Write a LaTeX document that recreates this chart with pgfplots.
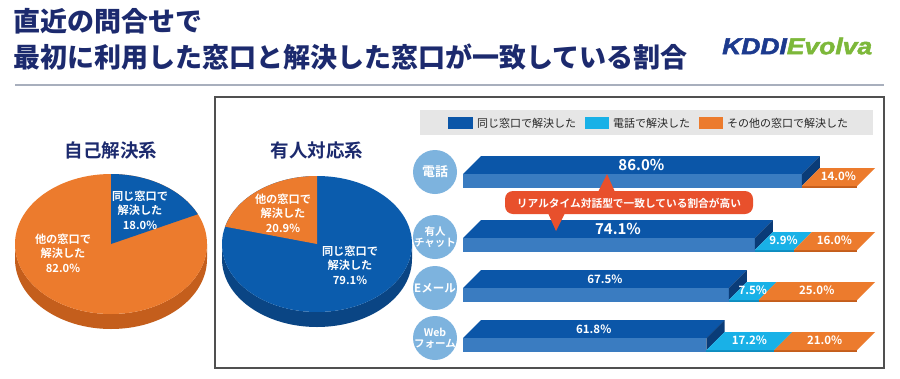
\documentclass[border=0pt]{standalone}
\usepackage{pgfplots}
\pgfplotsset{compat=1.18}
\usepackage{graphicx}
\usepackage{fontspec}
\setmainfont{Noto Sans CJK JP}[BoldFont={Noto Sans CJK JP Bold}]
\newfontfamily\jpblack{Noto Sans CJK JP Black}
\newfontfamily\logofont{Liberation Sans}[BoldItalicFeatures={FakeBold=2}]

\definecolor{navy}{HTML}{1C2A6E}
\definecolor{topblue}{HTML}{0B56A8}
\definecolor{frontblue}{HTML}{3A7CC1}
\definecolor{sideblue}{HTML}{0A3C78}
\definecolor{cyanc}{HTML}{19B1E7}
\definecolor{cyandark}{HTML}{0E8CBF}
\definecolor{orangec}{HTML}{EC7B2D}
\definecolor{orangedark}{HTML}{C45E1C}
\definecolor{piblue}{HTML}{0B5CAD}
\definecolor{piblueside}{HTML}{0A4584}
\definecolor{circlec}{HTML}{7DB3DE}
\definecolor{callc}{HTML}{E8502C}
\definecolor{legbg}{HTML}{E6E6E6}
\definecolor{framec}{HTML}{505050}
\definecolor{rulec}{HTML}{A8AFBD}
\definecolor{kddi}{HTML}{1C3A8E}
\definecolor{evolva}{HTML}{7DB83A}

\tikzset{
 biglbl/.style={text=white,inner sep=0pt,font=\bfseries\fontsize{15}{15}\selectfont},
 midlbl/.style={text=white,inner sep=0pt,font=\bfseries\fontsize{11.5}{12}\selectfont},
 smlbl/.style={text=white,inner sep=0pt,font=\bfseries\fontsize{11.5}{12}\selectfont},
 pielbl/.style={text=white,align=center,inner sep=0pt,font=\bfseries\fontsize{11.2}{14.5}\selectfont},
 circ/.style={text=white,align=center,inner sep=0pt,font=\bfseries\fontsize{10.5}{11.5}\selectfont},
}
\pgfplotsset{pieax/.style={anchor=center, scale only axis, width=200pt, height=200pt,
  xmin=-100,xmax=100,ymin=-100,ymax=100, hide axis, clip=false}}

\newcommand\slx{4.57}
\newcommand\poly[2]{\addplot[draw=none,fill=#1,forget plot] coordinates {#2} -- cycle;}
\newcommand\drawbar[5]{%
  \pgfmathsetmacro\yB{#1}%
  \pgfmathsetmacro\yBs{#1-2}%
  \pgfmathsetmacro\yF{#1-14}%
  \pgfmathsetmacro\yT{#1-32}%
  \pgfmathsetmacro\yS{#1-20}%
  \pgfmathsetmacro\xA{#2}%
  \pgfmathsetmacro\xB{#2+#3}%
  \pgfmathsetmacro\xC{#2+#3+#4}%
  \pgfmathsetmacro\xAs{#2+\slx}%
  \pgfmathsetmacro\xBs{#2+#3+\slx}%
  \pgfmathsetmacro\xCs{#2+#3+#4+\slx}%
  \poly{topblue}{(0,\yF) (\slx,\yT) (\xAs,\yT) (\xA,\yF)}
  \poly{frontblue}{(0,\yF) (\xA,\yF) (\xA,\yB) (0,\yB)}
  \poly{sideblue}{(\xA,\yF) (\xAs,\yT) (\xAs,\yS) (\xA,\yBs)}
  \ifdim #3pt>0pt
    \poly{cyandark}{(\xA,\yBs) (\xB,\yBs) (\xB,\yB) (\xA,\yB)}
    \poly{cyanc}{(\xA,\yBs) (\xAs,\yS) (\xBs,\yS) (\xB,\yBs)}
  \fi
  \poly{orangedark}{(\xB,\yBs) (\xC,\yBs) (\xC,\yB) (\xB,\yB)}
  \poly{orangec}{(\xB,\yBs) (\xBs,\yS) (\xCs,\yS) (\xC,\yBs)}
  \pgfmathsetmacro\xm{#2/2+\slx/2}\pgfmathsetmacro\ym{#1-23}%
  \edef\tmp{\noexpand\node[#5] at (axis cs:\xm,\ym) {#2\noexpand\%};}\tmp
  \pgfmathsetmacro\ym{#1-11.5}%
  \ifdim #3pt>0pt
    \pgfmathsetmacro\xm{#2+#3/2+\slx/2}%
    \edef\tmp{\noexpand\node[smlbl] at (axis cs:\xm,\ym) {#3\noexpand\%};}\tmp
  \fi
  \pgfmathsetmacro\xm{#2+#3+#4/2+\slx/2}%
  \edef\tmp{\noexpand\node[smlbl] at (axis cs:\xm,\ym) {#4\noexpand\%};}\tmp
}

% pie data
\def\selfsame{18.0}\def\selfother{82.0}
\def\humansame{79.1}\def\humanother{20.9}

\begin{document}
\begin{tikzpicture}[x=1pt,y=-1pt]
\path[use as bounding box] (0,0) rectangle (900,378);
\fill[white] (0,0) rectangle (900,378);
% title
\node[anchor=west,inner sep=0pt,text=navy,font=\jpblack\fontsize{27}{27}\selectfont] at (13,21) {直近の問合せで};
\node[anchor=west,inner sep=0pt,text=navy,font=\jpblack\fontsize{27}{27}\selectfont] at (13,57) {最初に利用した窓口と解決した窓口が一致している割合};
\node[anchor=west,inner sep=0pt] at (722,46) {\scalebox{1.15}[1]{\logofont\bfseries\itshape\fontsize{23}{23}\selectfont\textcolor{kddi}{KDDI}\textcolor{evolva}{Evolva}}};
\draw[rulec,line width=1.5pt] (15,85) -- (884,85);
% frame
\draw[framec,line width=1.2pt] (215,97) rectangle (884,368);
% pie titles
\node[text=navy,font=\bfseries\fontsize{18.5}{18.5}\selectfont] at (111,150) {自己解決系};
\node[text=navy,font=\bfseries\fontsize{18.5}{18.5}\selectfont] at (317,150) {有人対応系};

% left pie
\pgfmathsetmacro\angself{90-\selfsame*3.6}
\begin{axis}[pieax, at={(111pt,-244pt)}]
\fill[orangedark] (axis cs:-96,0) arc[start angle=180,end angle=360,x radius=96pt,y radius=70pt] -- (axis cs:96,-15) arc[start angle=360,end angle=180,x radius=96pt,y radius=70pt] -- cycle;
\fill[orangec] (axis cs:0,0) ellipse[x radius=96pt,y radius=70pt];
\fill[piblue] (axis cs:0,0) -- (axis cs:0,70) arc[start angle=90,end angle=\angself,x radius=96pt,y radius=70pt] -- cycle;
\end{axis}
% right pie
\pgfmathsetmacro\anghuman{90+\humanother*3.6}
\begin{axis}[pieax, at={(317pt,-244pt)}]
\fill[piblueside] (axis cs:-95,0) arc[start angle=180,end angle=360,x radius=95pt,y radius=68pt] -- (axis cs:95,-15) arc[start angle=360,end angle=180,x radius=95pt,y radius=68pt] -- cycle;
\fill[piblue] (axis cs:0,0) ellipse[x radius=95pt,y radius=68pt];
\fill[orangec] (axis cs:0,0) -- (axis cs:0,68) arc[start angle=90,end angle=\anghuman,x radius=95pt,y radius=68pt] -- cycle;
\end{axis}
\node[pielbl] at (140,210) {同じ窓口で\\解決した\\\selfsame\%};
\node[pielbl] at (63,253) {他の窓口で\\解決した\\\selfother\%};
\node[pielbl] at (283,213) {他の窓口で\\解決した\\\humanother\%};
\node[pielbl] at (350,265) {同じ窓口で\\解決した\\\humansame\%};

% legend
\fill[legbg] (420,110) rectangle (873,135);
\fill[topblue] (448,117) rectangle (473,129);
\node[anchor=west,inner sep=0pt,text=black!85,font=\fontsize{11}{11}\selectfont] at (477,123) {同じ窓口で解決した};
\fill[cyanc] (585,117) rectangle (609,129);
\node[anchor=west,inner sep=0pt,text=black!85,font=\fontsize{11}{11}\selectfont] at (613,123) {電話で解決した};
\fill[orangec] (699,117) rectangle (723,129);
\node[anchor=west,inner sep=0pt,text=black!85,font=\fontsize{11}{11}\selectfont] at (727,123) {その他の窓口で解決した};

% category circles
\fill[circlec] (435,172) circle[radius=22pt];
\fill[circlec] (435,237) circle[radius=22pt];
\fill[circlec] (435,288) circle[radius=22pt];
\fill[circlec] (435,338) circle[radius=22pt];
\node[circ,font=\bfseries\fontsize{13}{13}\selectfont] at (435,172) {電話};
\node[circ] at (435,237) {有人\\チャット};
\node[circ,font=\bfseries\fontsize{11.5}{12}\selectfont] at (435,288) {Eメール};
\node[circ] at (435,338) {Web\\フォーム};

% bars
\begin{axis}[at={(463pt,-100pt)}, anchor=north west, scale only axis,
  width=394pt, height=260pt, xmin=0, xmax=100, ymin=100, ymax=360,
  y dir=reverse, hide axis, clip=false]
\drawbar{188}{86.0}{0}{14.0}{biglbl}
\drawbar{252}{74.1}{9.9}{16.0}{biglbl}
\drawbar{302}{67.5}{7.5}{25.0}{midlbl}
\drawbar{352}{61.8}{17.2}{21.0}{midlbl}
\end{axis}

% callout
\fill[callc,rounded corners=8pt] (505,191) rectangle (753,214);
\fill[callc] (598,192) -- (607,174) -- (615,192) -- cycle;
\fill[callc] (548,213) -- (556,231) -- (565,213) -- cycle;
\node[text=white,inner sep=0pt,font=\bfseries\fontsize{10.7}{11}\selectfont] at (629,203) {リアルタイム対話型で一致している割合が高い};
\end{tikzpicture}
\end{document}
